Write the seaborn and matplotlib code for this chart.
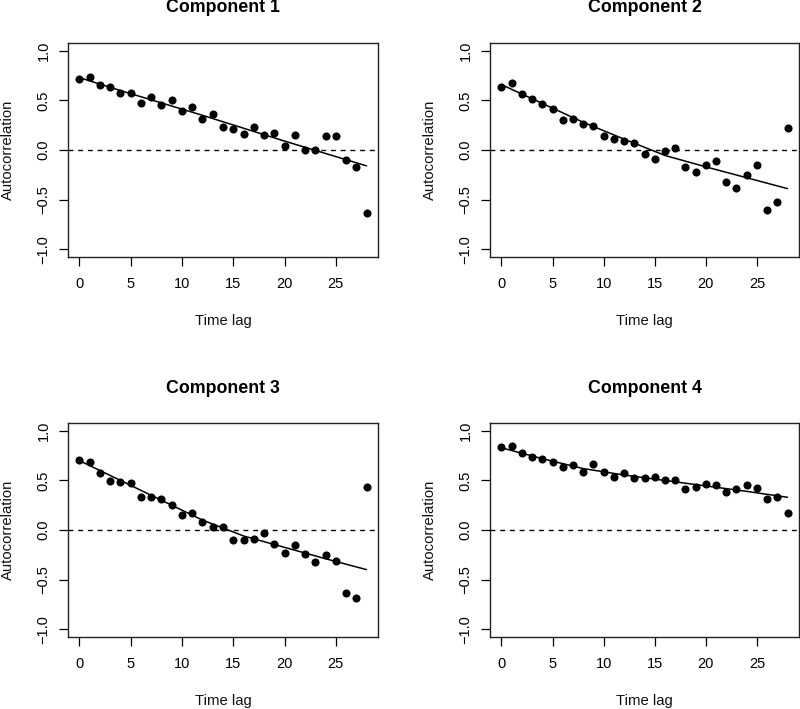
import matplotlib
matplotlib.use("Agg")
import matplotlib.pyplot as plt
import seaborn as sns
import pandas as pd

# ---- data ----
lags = list(range(29))

comp1 = [0.72, 0.74, 0.66, 0.64, 0.58, 0.58, 0.47, 0.53, 0.45, 0.50,
         0.39, 0.43, 0.31, 0.36, 0.23, 0.21, 0.16, 0.23, 0.15, 0.17,
         0.04, 0.15, 0.00, 0.00, 0.14, 0.14, -0.10, -0.17, -0.64]
comp2 = [0.64, 0.68, 0.57, 0.51, 0.46, 0.41, 0.30, 0.31, 0.26, 0.245,
         0.14, 0.11, 0.09, 0.07, -0.04, -0.09, -0.01, 0.02, -0.17, -0.22,
         -0.15, -0.11, -0.32, -0.38, -0.25, -0.15, -0.61, -0.52, 0.225]
comp3 = [0.71, 0.69, 0.58, 0.49, 0.48, 0.47, 0.33, 0.33, 0.31, 0.25,
         0.15, 0.17, 0.08, 0.03, 0.03, -0.10, -0.10, -0.09, -0.03, -0.14,
         -0.23, -0.15, -0.24, -0.32, -0.25, -0.31, -0.64, -0.69, 0.43]
comp4 = [0.84, 0.85, 0.78, 0.74, 0.72, 0.69, 0.64, 0.66, 0.59, 0.67,
         0.59, 0.535, 0.575, 0.525, 0.52, 0.53, 0.50, 0.50, 0.41, 0.43,
         0.46, 0.455, 0.38, 0.41, 0.45, 0.42, 0.31, 0.33, 0.175]

# fitted curves, read at a few lags
fit_lags = [0, 4, 8, 12, 16, 20, 24, 28]
fit1 = [0.73, 0.60, 0.475, 0.35, 0.22, 0.09, -0.035, -0.16]
fit2 = [0.66, 0.47, 0.28, 0.11, -0.055, -0.17, -0.28, -0.39]
fit3 = [0.70, 0.50, 0.30, 0.10, -0.06, -0.175, -0.29, -0.40]
fit4 = [0.83, 0.72, 0.62, 0.555, 0.50, 0.445, 0.39, 0.33]

titles = ["Component 1", "Component 2", "Component 3", "Component 4"]
series = [comp1, comp2, comp3, comp4]
fits = [fit1, fit2, fit3, fit4]

xticks = [0, 5, 10, 15, 20, 25]
yticks = [-1.0, -0.5, 0.0, 0.5, 1.0]
yticklabels = ["\u22121.0", "\u22120.5", "0.0", "0.5", "1.0"]

# ---- styling ----
sns.set_theme(style="white")
plt.rcParams["font.family"] = ["Liberation Sans", "DejaVu Sans"]

W, H = 800, 709
fig = plt.figure(figsize=(W / 100, H / 100), dpi=100)

# pixel boxes (left, right, top, bottom)
boxes = [(68, 378, 43, 257), (490, 799, 43, 257),
         (68, 378, 423, 637), (490, 799, 423, 637)]

for title, vals, fit, (l, r, t, b) in zip(titles, series, fits, boxes):
    ax = fig.add_axes([l / W, 1 - b / H, (r - l) / W, (b - t) / H])
    df = pd.DataFrame({"lag": lags, "acf": vals})
    dfit = pd.DataFrame({"lag": fit_lags, "fit": fit})
    ax.axhline(0, color="black", lw=1.0, ls=(0, (3.5, 3.5)), zorder=1)
    sns.lineplot(data=dfit, x="lag", y="fit", ax=ax, color="black", lw=1.1, zorder=2)
    sns.scatterplot(data=df, x="lag", y="acf", ax=ax, color="black", s=34,
                    linewidth=0, zorder=3)
    ax.set_xlim(-1.12, 29.12)
    ax.set_ylim(-1.08, 1.08)
    ax.set_xticks(xticks)
    ax.set_xticklabels([str(v) for v in xticks])
    ax.set_yticks(yticks)
    ax.set_yticklabels(yticklabels, rotation=90, va="center")
    ax.tick_params(axis="both", direction="out", length=6.5, width=0.9,
                   colors="black", labelsize=10.5, bottom=True, left=True,
                   top=False, right=False)
    ax.tick_params(axis="x", pad=8)
    ax.tick_params(axis="y", pad=6)
    for sp in ax.spines.values():
        sp.set_color("#222222")
        sp.set_linewidth(1.0)
    ax.set_xlabel("Time lag", fontsize=10.7, color="#111111")
    ax.set_ylabel("Autocorrelation", fontsize=10.7, color="#111111")
    ax.xaxis.set_label_coords(0.5, -64 / (b - t))
    ax.xaxis.label.set_va("center")
    ax.yaxis.set_label_coords(-60 / (r - l), 0.5)
    ax.yaxis.label.set_va("center")
    ax.text(0.5, 1 + 35 / (b - t), title, transform=ax.transAxes,
            ha="center", va="center", fontsize=12.8, fontweight="bold",
            color="black")

fig.savefig("out.png", dpi=100)
